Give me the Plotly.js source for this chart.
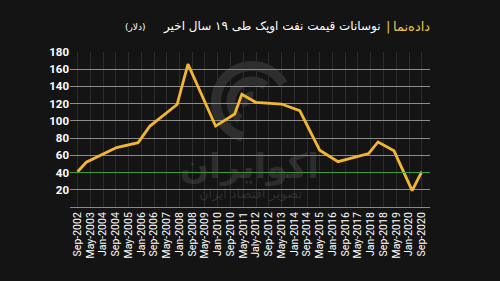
<!DOCTYPE html>
<html>
<head>
<meta charset="utf-8">
<script src="https://cdn.plot.ly/plotly-3.0.1.min.js"></script>
<style>
html,body{margin:0;padding:0;background:#141414;}
#chart{width:500px;height:281px;}
</style>
</head>
<body>
<div id="chart"></div>
<script>
// Data points (date, OPEC oil price in dollars)
const dates = ['2002-09-01','2003-02-15','2004-09-15','2005-11-01','2006-06-15','2007-11-15','2008-06-10','2009-11-20','2010-11-20','2011-04-05','2011-12-25','2013-05-01','2014-04-15','2015-05-01','2016-04-15','2017-11-20','2018-05-20','2019-03-20','2020-03-01','2020-09-01'];
const prices = [41, 52, 69, 74.7, 94, 119, 166, 94, 108, 131, 121.6, 119.6, 112, 66, 52.6, 62, 75.5, 65.2, 19, 41];

// X tick positions and labels
const tickDates = ['2002-09-01','2003-05-01','2004-01-01','2004-09-01','2005-05-01','2006-01-01','2006-09-01','2007-05-01','2008-01-01','2008-09-01','2009-05-01','2010-01-01','2010-09-01','2011-05-01','2012-01-01','2012-09-01','2013-05-01','2014-01-01','2014-09-01','2015-05-01','2016-01-01','2016-09-01','2017-05-01','2018-01-01','2018-09-01','2019-05-01','2020-01-01','2020-09-01'];
const tickLabels = ['Sep-2002','May-2003','Jan-2004','Sep-2004','May-2005','Jan-2006','Sep-2006','May-2007','Jan-2008','Sep-2008','May-2009','Jan-2010','Sep-2010','May-2011','Jaly-2012','Sep-2012','May-2013','Jan-2014','Sep-2014','May-2015','Jan-2016','Sep-2016','May-2017','Jan-2018','Sep-2018','May-2019','Jan-2020','Sep-2020'];

// Y ticks
const yTicks = [20, 40, 60, 80, 100, 120, 140, 160, 180];
const refLevel = 40;

const trace = {
  x: dates, y: prices, type: 'scatter', mode: 'lines',
  line: {color: '#f2b632', width: 2.8},
  hoverinfo: 'skip'
};

// plot-area pixel helpers (plot spans x 70..430, y 52..207)
function px(x) { return (x - 70) / 360; }
function py(y) { return (207 - y) / 155; }

// watermark logo arcs (decorative)
function arcPath(cx, cy, r, a0, a1) {
  let d = '';
  const n = 48;
  for (let i = 0; i <= n; i++) {
    const a = (a0 + (a1 - a0) * i / n) * Math.PI / 180;
    const x = px(cx + r * Math.cos(a));
    const y = py(cy - r * Math.sin(a));
    d += (i === 0 ? 'M' : 'L') + x.toFixed(4) + ',' + y.toFixed(4);
  }
  return d;
}
const wm = 'rgba(110,110,110,0.30)';
const logoShapes = [
  {type: 'path', xref: 'paper', yref: 'paper', path: arcPath(252, 102, 36, 30, 255), line: {color: wm, width: 10}, layer: 'below'},
  {type: 'path', xref: 'paper', yref: 'paper', path: arcPath(252, 102, 21, 50, 235), line: {color: wm, width: 9}, layer: 'below'},
  {type: 'path', xref: 'paper', yref: 'paper', path: arcPath(252, 102, 7, 80, 215), line: {color: wm, width: 7}, layer: 'below'}
];

const layout = {
  width: 500, height: 281,
  paper_bgcolor: '#141414', plot_bgcolor: '#141414',
  margin: {l: 70, r: 70, t: 52, b: 74},
  showlegend: false,
  font: {family: 'Roboto, Arial, sans-serif', color: '#ffffff'},
  xaxis: {
    type: 'date',
    range: ['2002-04-10', '2021-02-05'],
    tickmode: 'array', tickvals: tickDates, ticktext: tickLabels,
    tickangle: -90,
    tickfont: {size: 10.5, color: '#ffffff', family: 'Roboto, Arial, sans-serif'},
    showgrid: true, gridcolor: '#2c2c2c', gridwidth: 1,
    showline: true, linecolor: '#8a8a8a', linewidth: 1,
    zeroline: false, ticks: '', ticklen: 0
  },
  yaxis: {
    range: [0, 180],
    tickmode: 'array', tickvals: yTicks,
    tickfont: {size: 11.5, color: '#ffffff', family: 'Roboto, Arial, sans-serif', weight: 'bold'},
    showgrid: true, gridcolor: '#8c8c8c', gridwidth: 1,
    zeroline: false, showline: false, ticks: '', ticklen: 0
  },
  shapes: logoShapes.concat([
    {type: 'line', xref: 'paper', yref: 'y', x0: 0, x1: 1, y0: refLevel, y1: refLevel,
     line: {color: '#3f9a3a', width: 1}, layer: 'above'}
  ]),
  annotations: [
    {xref: 'paper', yref: 'paper', x: px(249), y: py(166), xanchor: 'center', yanchor: 'middle',
     text: 'اکوایران', showarrow: false,
     font: {family: 'DejaVu Sans', size: 34, color: wm, weight: 'bold'}},
    {xref: 'paper', yref: 'paper', x: px(250), y: py(194), xanchor: 'center', yanchor: 'middle',
     text: 'تصویر اقتصاد ایران', showarrow: false,
     font: {family: 'DejaVu Sans', size: 13, color: wm}},
    {xref: 'paper', yref: 'paper', x: px(432), y: py(27), xanchor: 'right', yanchor: 'middle',
     text: 'داده‌نما', showarrow: false,
     font: {family: 'DejaVu Sans', size: 13, color: '#e8c24a'}},
    {xref: 'paper', yref: 'paper', x: px(392), y: py(27), xanchor: 'right', yanchor: 'middle',
     text: '|', showarrow: false,
     font: {family: 'DejaVu Sans', size: 13, color: '#e8c24a'}},
    {xref: 'paper', yref: 'paper', x: px(383), y: py(27), xanchor: 'right', yanchor: 'middle',
     text: 'نوسانات قیمت نفت اوپک طی ۱۹ سال اخیر', showarrow: false,
     font: {family: 'DejaVu Sans', size: 12, color: '#ffffff'}},
    {xref: 'paper', yref: 'paper', x: px(148), y: py(27), xanchor: 'right', yanchor: 'middle',
     text: '(دلار)', showarrow: false,
     font: {family: 'DejaVu Sans', size: 9, color: '#ffffff'}}
  ]
};

Plotly.newPlot('chart', [trace], layout, {staticPlot: true, displayModeBar: false});
</script>
</body>
</html>
